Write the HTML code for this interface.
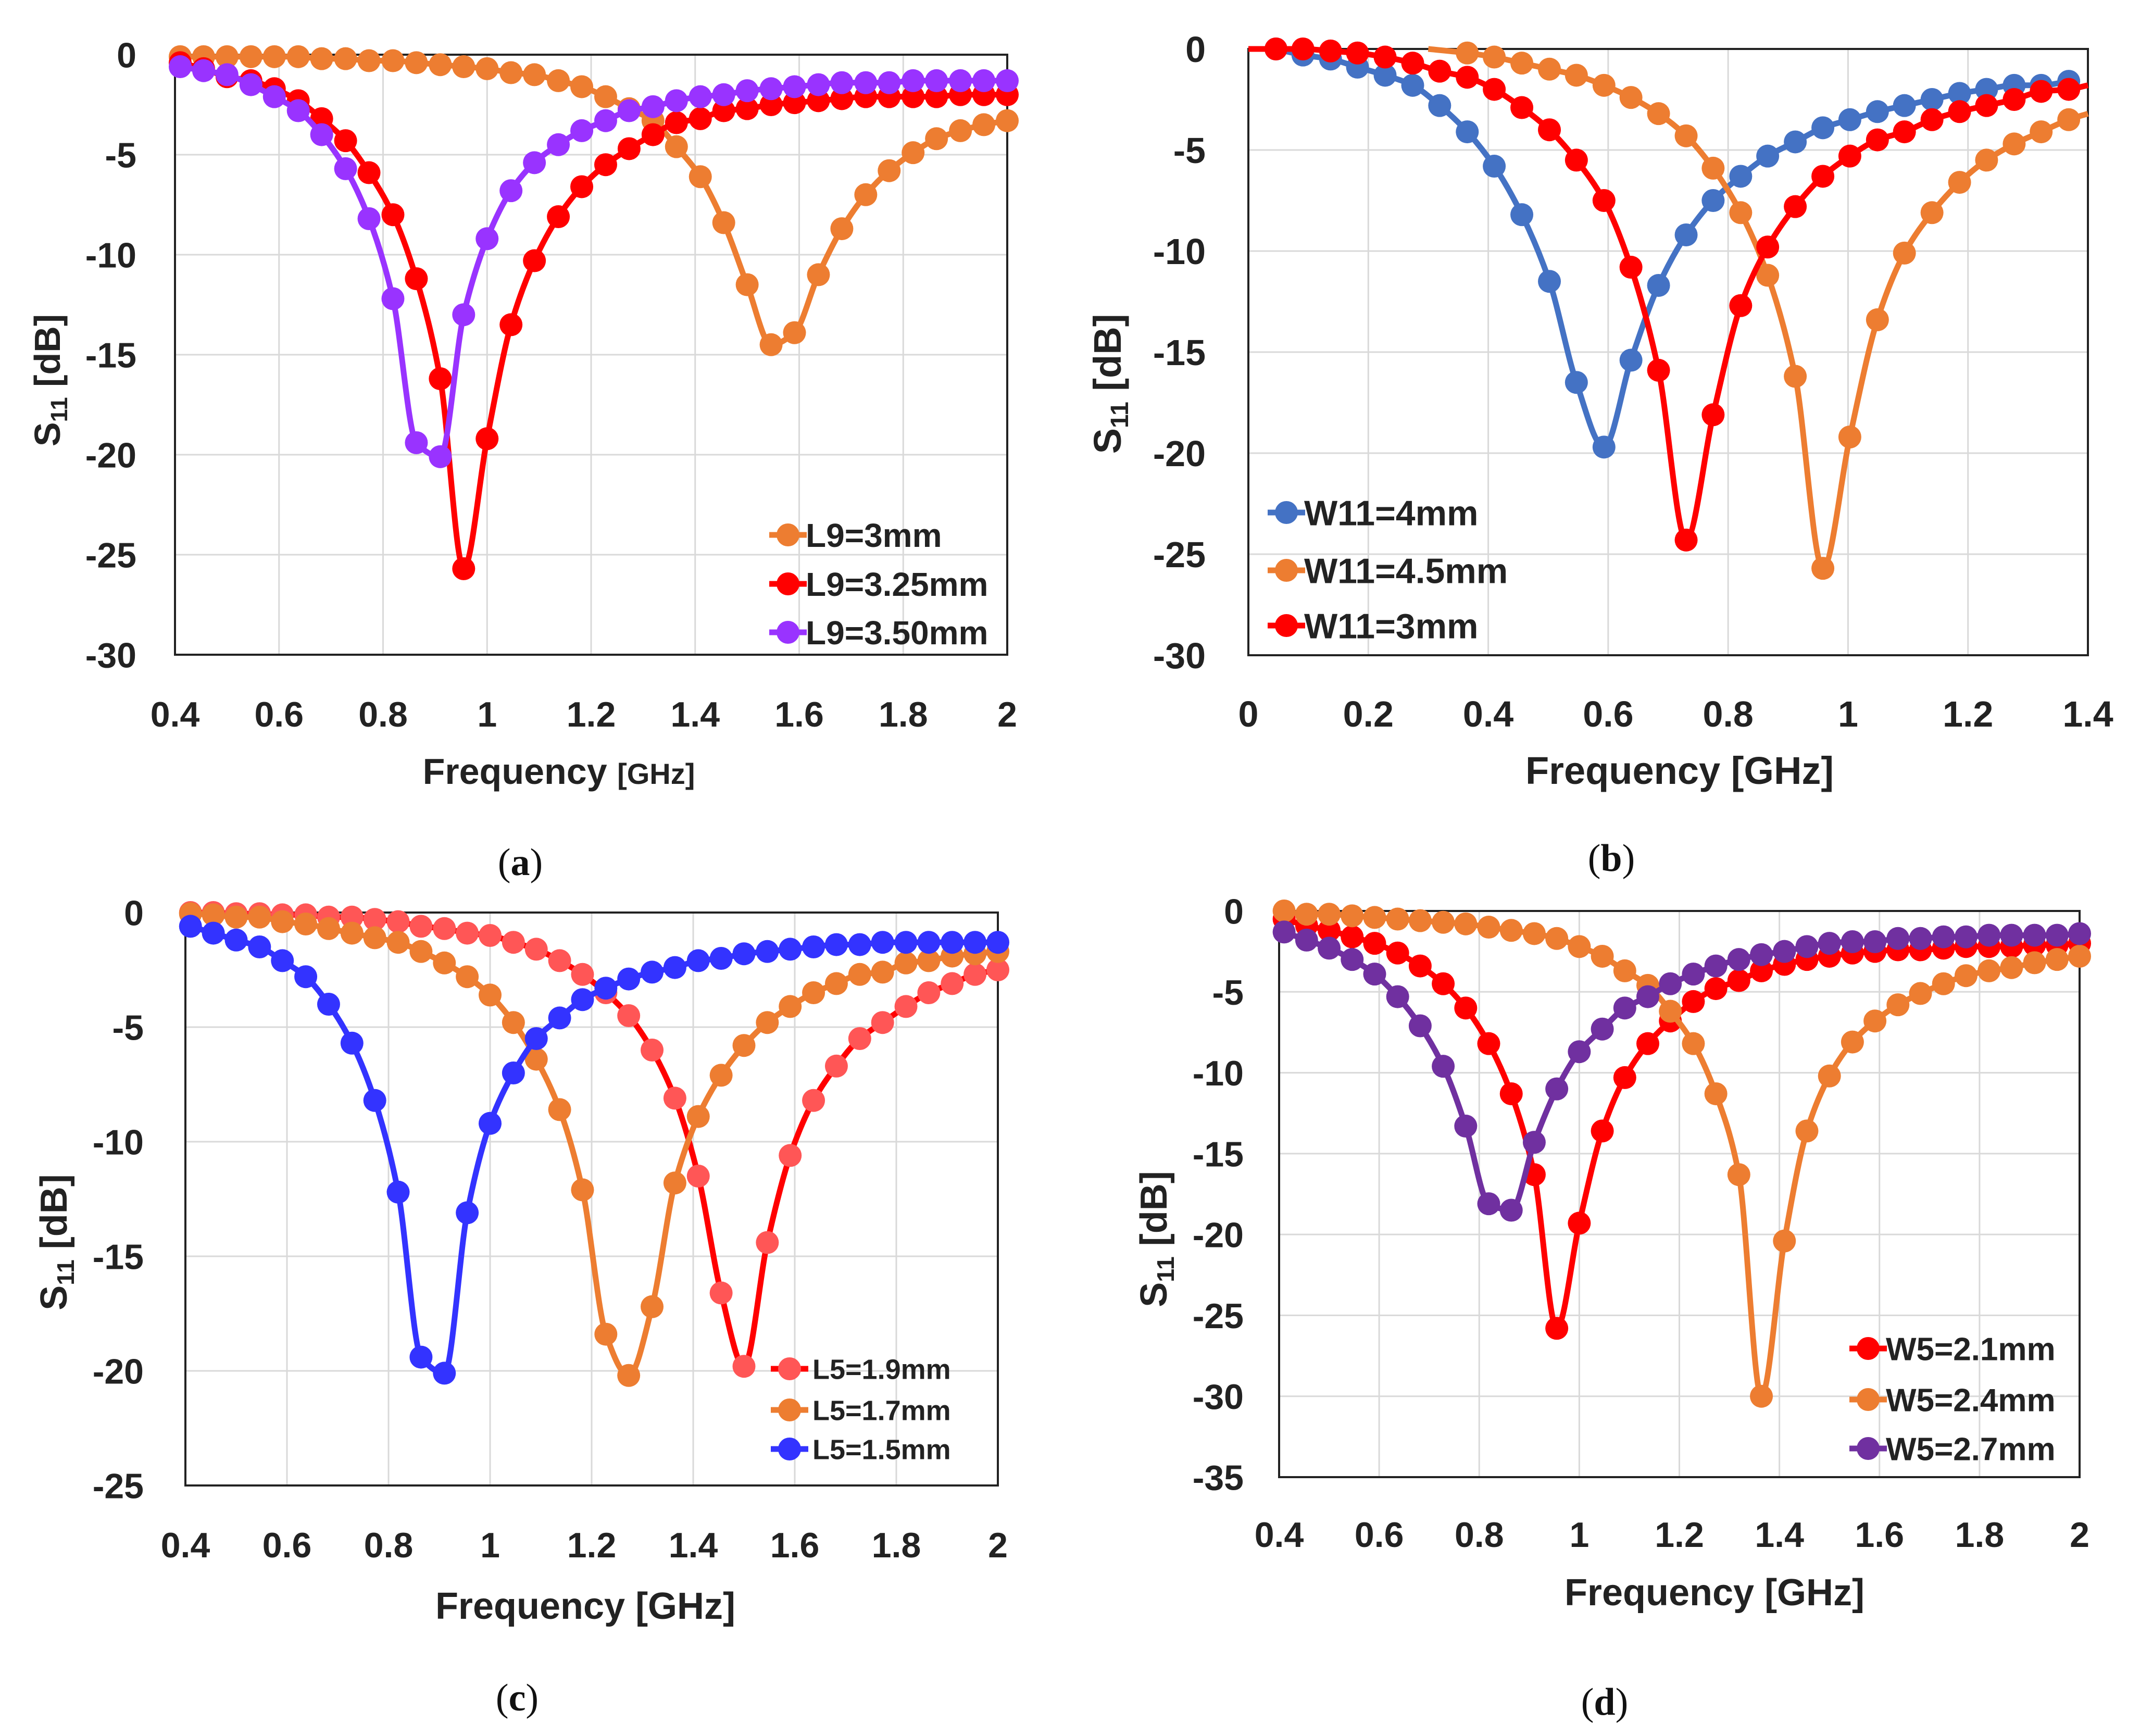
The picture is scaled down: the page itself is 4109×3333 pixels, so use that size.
<!DOCTYPE html>
<html><head><meta charset="utf-8"><style>
html,body{margin:0;padding:0;background:#fff;}
svg{display:block;}
</style></head>
<body>
<svg id="fig" width="4109" height="3333" viewBox="0 0 4109 3333" xmlns="http://www.w3.org/2000/svg" font-family="'Liberation Sans', sans-serif">
<rect width="4109" height="3333" fill="#fff"/>
</svg>
<script>
// ---- shared frequency categories (GHz) ----
const freqA = [0.41,0.455,0.5,0.546,0.591,0.637,0.682,0.728,0.773,0.819,0.864,0.91,0.955,1.0,1.046,1.091,1.137,1.182,1.228,1.273,1.319,1.364,1.41,1.455,1.5,1.546,1.591,1.637,1.682,1.728,1.773,1.819,1.864,1.91,1.955,2.0];
const freqB = [0.046,0.091,0.137,0.182,0.228,0.274,0.319,0.365,0.41,0.456,0.502,0.547,0.593,0.638,0.684,0.73,0.775,0.821,0.866,0.912,0.958,1.003,1.049,1.094,1.14,1.186,1.231,1.277,1.322,1.368];
const freqBOrange = [0.365,0.41,0.456,0.502,0.547,0.593,0.638,0.684,0.73,0.775,0.821,0.866,0.912,0.958,1.003,1.049,1.094,1.14,1.186,1.231,1.277,1.322,1.368];

// ---- panel (a) ----
const a_L9_3 = [-0.1,-0.1,-0.1,-0.1,-0.1,-0.1,-0.2,-0.2,-0.3,-0.3,-0.4,-0.5,-0.6,-0.7,-0.9,-1.0,-1.3,-1.6,-2.1,-2.7,-3.3,-4.6,-6.1,-8.4,-11.5,-14.5,-13.9,-11.0,-8.7,-7.0,-5.8,-4.9,-4.2,-3.8,-3.5,-3.3];
const a_L9_325 = [-0.4,-0.7,-1.1,-1.3,-1.7,-2.3,-3.2,-4.3,-5.9,-8.0,-11.2,-16.2,-25.7,-19.2,-13.5,-10.3,-8.1,-6.6,-5.5,-4.7,-4.0,-3.4,-3.2,-2.8,-2.7,-2.5,-2.4,-2.3,-2.2,-2.1,-2.1,-2.1,-2.1,-2.0,-2.0,-2.0];
const a_L9_350 = [-0.6,-0.8,-1.0,-1.5,-2.1,-2.8,-4.0,-5.7,-8.2,-12.2,-19.4,-20.1,-13.0,-9.2,-6.8,-5.4,-4.5,-3.8,-3.3,-2.8,-2.6,-2.3,-2.1,-2.0,-1.8,-1.7,-1.6,-1.5,-1.4,-1.4,-1.4,-1.3,-1.3,-1.3,-1.3,-1.3];
const a_xticks = [0.4,0.6,0.8,1,1.2,1.4,1.6,1.8,2];
const a_yticks = [0,-5,-10,-15,-20,-25,-30];

// ---- panel (b) ----
const b_W11_4 = [0,-0.3,-0.5,-0.9,-1.3,-1.8,-2.8,-4.1,-5.8,-8.2,-11.5,-16.5,-19.7,-15.4,-11.7,-9.2,-7.5,-6.3,-5.3,-4.6,-3.9,-3.5,-3.1,-2.8,-2.5,-2.2,-2.0,-1.8,-1.8,-1.6];
const b_W11_45 = [-0.2,-0.4,-0.7,-1.0,-1.3,-1.8,-2.4,-3.2,-4.3,-5.9,-8.1,-11.2,-16.2,-25.7,-19.2,-13.4,-10.1,-8.1,-6.6,-5.5,-4.7,-4.1,-3.5];
const b_W11_3 = [0,0,-0.1,-0.2,-0.4,-0.7,-1.1,-1.4,-2.0,-2.9,-4.0,-5.5,-7.5,-10.8,-15.9,-24.3,-18.1,-12.7,-9.8,-7.8,-6.3,-5.3,-4.5,-4.1,-3.5,-3.1,-2.8,-2.5,-2.1,-2.0];
const b_xticks = [0,0.2,0.4,0.6,0.8,1,1.2,1.4];
const b_yticks = [0,-5,-10,-15,-20,-25,-30];

// ---- panel (c) ----
const c_L5_19 = [0,0,-0.05,-0.05,-0.1,-0.1,-0.2,-0.2,-0.3,-0.4,-0.6,-0.7,-0.9,-1.0,-1.3,-1.6,-2.1,-2.7,-3.5,-4.5,-6.0,-8.1,-11.5,-16.6,-19.8,-14.4,-10.6,-8.2,-6.7,-5.5,-4.8,-4.1,-3.5,-3.1,-2.7,-2.5];
const c_L5_17 = [-0.05,-0.1,-0.2,-0.2,-0.4,-0.5,-0.7,-0.9,-1.1,-1.3,-1.7,-2.2,-2.8,-3.6,-4.8,-6.4,-8.6,-12.1,-18.4,-20.2,-17.2,-11.8,-8.9,-7.1,-5.8,-4.8,-4.1,-3.5,-3.1,-2.7,-2.6,-2.2,-2.1,-1.9,-1.8,-1.7];
const c_L5_15 = [-0.6,-0.9,-1.2,-1.5,-2.1,-2.8,-4.0,-5.7,-8.2,-12.2,-19.4,-20.1,-13.1,-9.2,-7.0,-5.5,-4.6,-3.8,-3.3,-2.9,-2.6,-2.4,-2.1,-2.0,-1.8,-1.7,-1.6,-1.5,-1.4,-1.4,-1.3,-1.3,-1.3,-1.3,-1.3,-1.3];
const c_xticks = [0.4,0.6,0.8,1,1.2,1.4,1.6,1.8,2];
const c_yticks = [0,-5,-10,-15,-20,-25];

// ---- panel (d) ----
const d_W5_21 = [-0.5,-0.9,-1.2,-1.6,-2.0,-2.6,-3.4,-4.5,-6.0,-8.2,-11.3,-16.3,-25.8,-19.3,-13.6,-10.3,-8.2,-6.8,-5.6,-4.8,-4.3,-3.7,-3.3,-3.0,-2.8,-2.6,-2.5,-2.4,-2.4,-2.3,-2.2,-2.2,-2.2,-2.1,-2.1,-2.0];
const d_W5_24 = [0,-0.2,-0.2,-0.3,-0.4,-0.5,-0.6,-0.7,-0.8,-1.0,-1.2,-1.4,-1.7,-2.2,-2.8,-3.7,-4.6,-6.2,-8.2,-11.3,-16.3,-30.0,-20.4,-13.6,-10.2,-8.1,-6.8,-5.8,-5.1,-4.5,-4.0,-3.7,-3.5,-3.2,-3.0,-2.8];
const d_W5_27 = [-1.3,-1.8,-2.3,-3.0,-3.9,-5.3,-7.1,-9.6,-13.3,-18.1,-18.5,-14.3,-11.0,-8.7,-7.3,-6.0,-5.3,-4.5,-3.9,-3.4,-3.0,-2.7,-2.5,-2.2,-2.0,-1.9,-1.9,-1.7,-1.7,-1.6,-1.6,-1.5,-1.5,-1.5,-1.5,-1.4];
const d_xticks = [0.4,0.6,0.8,1,1.2,1.4,1.6,1.8,2];
const d_yticks = [0,-5,-10,-15,-20,-25,-30,-35];

const NS = 'http://www.w3.org/2000/svg';
const svg = document.getElementById('fig');
function mk(tag, attrs, parent){
  const e = document.createElementNS(NS, tag);
  for (const k in attrs) e.setAttribute(k, attrs[k]);
  (parent||svg).appendChild(e);
  return e;
}
// monotone cubic (Fritsch-Carlson) in x to avoid overshoot
function smoothPath(pts){
  const n = pts.length;
  const dx = [], sl = [];
  for (let i=0;i<n-1;i++){ dx.push(pts[i+1][0]-pts[i][0]); sl.push((pts[i+1][1]-pts[i][1])/(dx[i]||1e-6)); }
  const m = new Array(n);
  m[0] = sl[0]; m[n-1] = sl[n-2];
  for (let i=1;i<n-1;i++){
    if (sl[i-1]*sl[i] <= 0) m[i] = 0;
    else { const w1 = 2*dx[i]+dx[i-1], w2 = dx[i]+2*dx[i-1]; m[i] = (w1+w2)/(w1/sl[i-1]+w2/sl[i]); }
  }
  let d = 'M' + pts[0][0].toFixed(1) + ',' + pts[0][1].toFixed(1);
  for (let i=0;i<n-1;i++){
    const h = dx[i]/3;
    const c1x = pts[i][0]+h, c1y = pts[i][1]+m[i]*h;
    const c2x = pts[i+1][0]-h, c2y = pts[i+1][1]-m[i+1]*h;
    d += ' C'+c1x.toFixed(1)+','+c1y.toFixed(1)+' '+c2x.toFixed(1)+','+c2y.toFixed(1)+' '+pts[i+1][0].toFixed(1)+','+pts[i+1][1].toFixed(1);
  }
  return d;
}

function drawPanel(p){
  const g = mk('g', {});
  
  
  const X = v => p.x0 + (v - p.xmin)/(p.xmax - p.xmin)*(p.x1 - p.x0);
  const Y = v => p.y0 + (p.ymax - v)/(p.ymax - p.ymin)*(p.y1 - p.y0);
  p.xticks.forEach(t => {
    const l = mk('line', {x1:X(t), x2:X(t), y1:p.y0, y2:p.y1, stroke:'#d9d9d9', 'stroke-width':3}, g);
    
    
    const tx = mk('text', {x:X(t), y:p.xtickY, 'text-anchor':'middle', 'font-size':p.tickFs, 'font-weight':'bold', fill:'#222'}, g);
    tx.textContent = String(t);
    
    
  });
  p.yticks.forEach(t => {
    const l = mk('line', {x1:p.x0, x2:p.x1, y1:Y(t), y2:Y(t), stroke:'#d9d9d9', 'stroke-width':3}, g);
    
    
    const ty = mk('text', {x:p.ytickX, y:Y(t) + p.tickFs*0.36, 'text-anchor':'end', 'font-size':p.tickFs, 'font-weight':'bold', fill:'#222'}, g);
    ty.textContent = String(t);
    
    
  });
  const box = mk('rect', {x:p.x0, y:p.y0, width:p.x1-p.x0, height:p.y1-p.y0, fill:'none', stroke:'#222', 'stroke-width':4}, g);
  
  
  p.series.forEach(s => {
    const pts = s.x.map((f,i) => [X(f), Y(s.y[i])]);
    if (s.lead) pts.unshift([X(s.lead[0]), Y(s.lead[1])]);
    if (s.tail) pts.push([X(s.tail[0]), Y(s.tail[1])]);
    const path = mk('path', {d:smoothPath(pts), fill:'none', stroke:s.line, 'stroke-width':11, 'stroke-linejoin':'round'}, g);
    
    
    s.x.forEach((f,i) => {
      const c = mk('circle', {cx:X(f), cy:Y(s.y[i]), r:p.mr, fill:s.marker}, g);
      
      
    });
  });
  p.series.forEach((s, i) => {
    const lx = p.legX, ly = p.legY[i];
    const lg = mk('g', {}, g);
    
    
    mk('line', {x1:lx-36, x2:lx+36, y1:ly, y2:ly, stroke:s.line, 'stroke-width':11}, lg);
    mk('circle', {cx:lx, cy:ly, r:p.mr, fill:s.marker}, lg);
    const t = mk('text', {x:lx+p.legDx, y:ly + p.legFs*0.36, 'font-size':p.legFs, 'font-weight':'bold', fill:'#222'}, lg);
    t.textContent = s.label;
  });
  const xt = mk('text', {x:p.xtitleX, y:p.xtitleY, 'text-anchor':'middle', 'font-size':p.titleFs, 'font-weight':'bold', fill:'#222'}, g);
  
  
  xt.textContent = 'Frequency ';
  const ts = mk('tspan', {'font-size': p.id==='a' ? p.titleFs*0.8 : p.titleFs}, xt);
  ts.textContent = '[GHz]';
  const yt = mk('text', {transform:'translate('+p.ytitleX+','+p.ytitleY+') rotate(-90)', 'text-anchor':'middle', 'font-size':p.titleFs, 'font-weight':'bold', fill:'#222'}, g);
  
  
  yt.textContent = 'S';
  const sub = mk('tspan', {'font-size':p.titleFs*0.65, dy:14}, yt);
  sub.textContent = '11';
  const rest = mk('tspan', {dy:-14}, yt);
  rest.textContent = ' [dB]';
  const cap = mk('text', {x:p.capX, y:p.capY, 'text-anchor':'middle', 'font-size':74, 'font-family':"'Liberation Serif', serif", fill:'#111'}, g);
  
  
  cap.textContent = '(';
  const cb = mk('tspan', {'font-weight':'bold'}, cap);
  cb.textContent = p.id;
  const ce = mk('tspan', {}, cap);
  ce.textContent = ')';
}

const ORANGE = '#ED7D31';
drawPanel({id:'a', x0:336, x1:1934, y0:105, y1:1257, xmin:0.4, xmax:2, ymin:-30, ymax:0,
  xticks:a_xticks, yticks:a_yticks, xtickY:1395, ytickX:262, tickFs:68, mr:22,
  legX:1513, legY:[1027,1121,1214], legDx:34, legFs:64, titleFs:70,
  xtitleX:1073, xtitleY:1505, ytitleX:115, ytitleY:730, capX:999, capY:1680,
  series:[
    {key:'l9-3mm', label:'L9=3mm', x:freqA, y:a_L9_3, line:ORANGE, marker:ORANGE},
    {key:'l9-3.25mm', label:'L9=3.25mm', x:freqA, y:a_L9_325, line:'#FF0000', marker:'#FF0000'},
    {key:'l9-3.50mm', label:'L9=3.50mm', x:freqA, y:a_L9_350, line:'#9933FF', marker:'#9933FF'}
  ]});
drawPanel({id:'b', x0:2397, x1:4009, y0:94, y1:1258, xmin:0, xmax:1.4, ymin:-30, ymax:0,
  xticks:b_xticks, yticks:b_yticks, xtickY:1395, ytickX:2315, tickFs:70, mr:22,
  legX:2470, legY:[984,1095,1201], legDx:34, legFs:68, titleFs:74,
  xtitleX:3225, xtitleY:1505, ytitleX:2152, ytitleY:737, capX:3094, capY:1672,
  series:[
    {key:'w11-4mm', label:'W11=4mm', x:freqB, y:b_W11_4, line:'#4472C4', marker:'#4472C4'},
    {key:'w11-4.5mm', label:'W11=4.5mm', x:freqBOrange, y:b_W11_45, line:ORANGE, marker:ORANGE, lead:[0.3,0], tail:[1.4,-3.2]},
    {key:'w11-3mm', label:'W11=3mm', x:freqB, y:b_W11_3, line:'#FF0000', marker:'#FF0000', lead:[0,0], tail:[1.4,-1.8]}
  ]});
drawPanel({id:'c', x0:356, x1:1916, y0:1752, y1:2852, xmin:0.4, xmax:2, ymin:-25, ymax:0,
  xticks:c_xticks, yticks:c_yticks, xtickY:2990, ytickX:276, tickFs:68, mr:22,
  legX:1516, legY:[2628,2707,2782], legDx:44, legFs:54, titleFs:72,
  xtitleX:1124, xtitleY:3108, ytitleX:128, ytitleY:2385, capX:993, capY:3284,
  series:[
    {key:'l5-1.9mm', label:'L5=1.9mm', x:freqA, y:c_L5_19, line:'#FF0000', marker:'#FF5656'},
    {key:'l5-1.7mm', label:'L5=1.7mm', x:freqA, y:c_L5_17, line:ORANGE, marker:ORANGE},
    {key:'l5-1.5mm', label:'L5=1.5mm', x:freqA, y:c_L5_15, line:'#3333FF', marker:'#3333FF'}
  ]});
drawPanel({id:'d', x0:2456, x1:3993, y0:1749, y1:2836, xmin:0.4, xmax:2, ymin:-35, ymax:0,
  xticks:d_xticks, yticks:d_yticks, xtickY:2970, ytickX:2388, tickFs:68, mr:22,
  legX:3587, legY:[2589,2687,2781], legDx:34, legFs:62, titleFs:72,
  xtitleX:3292, xtitleY:3082, ytitleX:2240, ytitleY:2379, capX:3081, capY:3292,
  series:[
    {key:'w5-2.1mm', label:'W5=2.1mm', x:freqA, y:d_W5_21, line:'#FF0000', marker:'#FF0000'},
    {key:'w5-2.4mm', label:'W5=2.4mm', x:freqA, y:d_W5_24, line:ORANGE, marker:ORANGE},
    {key:'w5-2.7mm', label:'W5=2.7mm', x:freqA, y:d_W5_27, line:'#7030A0', marker:'#7030A0'}
  ]});
</script>
</body></html>
